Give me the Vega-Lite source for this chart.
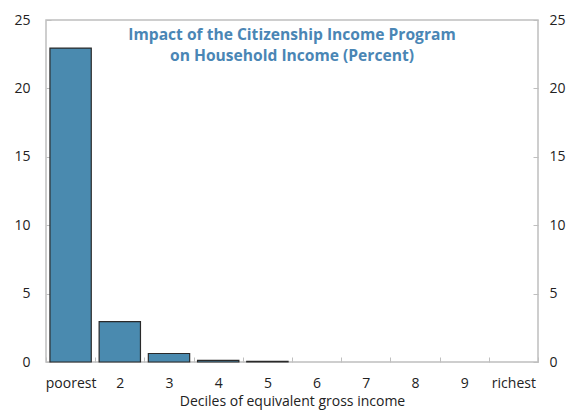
{
  "$schema": "https://vega.github.io/schema/vega-lite/v6.json",
  "autosize": "none",
  "width": 492,
  "height": 342,
  "padding": {"left": 46, "top": 20, "right": 33, "bottom": 50},
  "background": "white",
  "config": {
    "font": "Open Sans",
    "view": {"stroke": "#bfbfbf", "strokeWidth": 1.5}
  },
  "title": {
    "text": ["Impact of the Citizenship Income Program", "on Household Income (Percent)"],
    "font": "Open Sans",
    "fontSize": 15.6,
    "fontWeight": "bold",
    "color": "#4a86b5",
    "anchor": "middle",
    "baseline": "top",
    "offset": -52,
    "lineHeight": 21
  },
  "data": {
    "values": [
      {"decile": "poorest", "value": 22.95},
      {"decile": "2", "value": 2.95},
      {"decile": "3", "value": 0.62},
      {"decile": "4", "value": 0.12},
      {"decile": "5", "value": 0.05},
      {"decile": "6", "value": 0},
      {"decile": "7", "value": 0},
      {"decile": "8", "value": 0},
      {"decile": "9", "value": 0},
      {"decile": "richest", "value": 0}
    ]
  },
  "encoding": {
    "x": {
      "field": "decile",
      "type": "nominal",
      "sort": null,
      "scale": {"paddingInner": 0, "paddingOuter": 0},
      "axis": {
        "title": "Deciles of equivalent gross income",
        "titleFont": "Open Sans",
        "titleFontSize": 14,
        "titleFontWeight": "normal",
        "titleColor": "#222",
        "titlePadding": 4,
        "labelAngle": 0,
        "labelFontSize": 14,
        "labelColor": "#222",
        "labelPadding": 19,
        "tickBand": "extent",
        "tickSize": -5,
        "tickColor": "#bfbfbf",
        "domain": false,
        "grid": false
      }
    },
    "y": {
      "field": "value",
      "type": "quantitative",
      "scale": {"domain": [0, 25], "nice": false},
      "axis": {
        "title": null,
        "values": [0, 5, 10, 15, 20, 25],
        "labelFontSize": 14,
        "labelColor": "#222",
        "labelPadding": 21,
        "tickSize": -5,
        "tickColor": "#bfbfbf",
        "domain": false,
        "grid": false
      }
    }
  },
  "layer": [
    {
      "mark": {"type": "bar", "width": {"band": 0.84}, "fill": "#4a8aaf", "stroke": "#2a2a2a", "strokeWidth": 1.2},
      "encoding": {
        "strokeOpacity": {"condition": {"test": "datum.value > 0", "value": 1}, "value": 0}
      }
    },
    {
      "mark": {"type": "bar", "width": {"band": 0.84}, "opacity": 0},
      "encoding": {
        "y": {
          "field": "value",
          "type": "quantitative",
          "scale": {"domain": [0, 25], "nice": false},
          "axis": {
            "orient": "right",
            "title": null,
            "values": [0, 5, 10, 15, 20, 25],
            "labelFontSize": 14,
            "labelColor": "#222",
            "labelPadding": 16,
            "tickSize": -5,
            "tickColor": "#bfbfbf",
            "domain": false,
            "grid": false
          }
        }
      }
    }
  ],
  "resolve": {"axis": {"y": "independent"}}
}
